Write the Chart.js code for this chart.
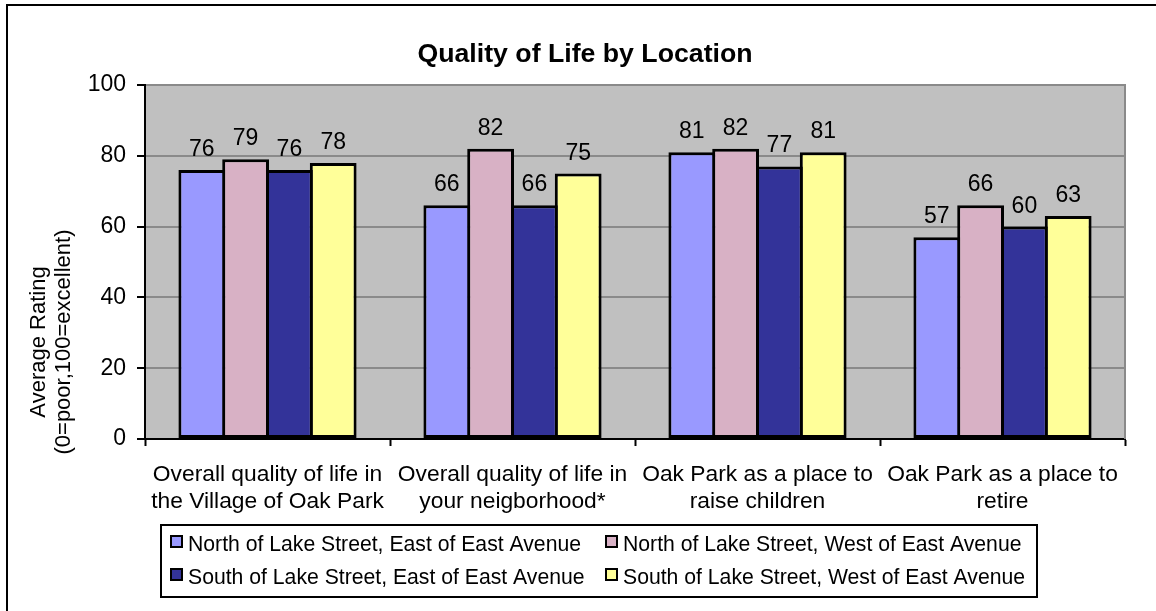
<!DOCTYPE html>
<html>
<head>
<meta charset="utf-8">
<title>Quality of Life by Location</title>
<script src="https://cdn.jsdelivr.net/npm/chart.js@4.4.0/dist/chart.umd.min.js"></script>
<style>
    html, body { margin: 0; padding: 0; background: #fff; }
    #wrap { width: 1156px; height: 611px; }
</style>
</head>
<body>
<div id="wrap"><canvas id="quality-chart" width="1156" height="611"></canvas></div>
<script>
// chart data
const chartTitle = 'Quality of Life by Location';
const yTitle = ['Average Rating', '(0=poor,100=excellent)'];
const categories = [
    ['Overall quality of life in', 'the Village of Oak Park'],
    ['Overall quality of life in', 'your neigborhood*'],
    ['Oak Park as a place to', 'raise children'],
    ['Oak Park as a place to', 'retire']
];
const seriesNames = [
    'North of Lake Street, East of East Avenue',
    'North of Lake Street, West of East Avenue',
    'South of Lake Street, East of East Avenue',
    'South of Lake Street, West of East Avenue'
];
const northEast = [76, 66, 81, 57];
const northWest = [79, 82, 82, 66];
const southEast = [76, 66, 77, 60];
const southWest = [78, 75, 81, 63];
const yTicks = [0, 20, 40, 60, 80, 100];

const seriesColors = ['#9999FF', '#D8B1C5', '#333399', '#FFFF99'];
const FONT = '"Liberation Sans", Arial, sans-serif';
const PLOT_BG = '#C0C0C0';
const GRID_GREY = '#8A8A8A';
const BAR_BORDER = 3;

// everything that is not a scale or a bar: backdrop, labels, legend, frame
const excelFrame = {
    id: 'excelFrame',
    beforeDraw(chart) {
        const { ctx, chartArea: a } = chart;
        ctx.save();
        ctx.fillStyle = '#FFFFFF';
        ctx.fillRect(0, 0, chart.width, chart.height);
        ctx.fillStyle = PLOT_BG;
        ctx.fillRect(a.left, a.top, a.right - a.left, a.bottom - a.top);
        ctx.restore();
    },
    afterDatasetsDraw(chart) {
        const { ctx } = chart;
        ctx.save();
        ctx.font = `23px ${FONT}`;
        ctx.fillStyle = '#000';
        ctx.textAlign = 'center';
        ctx.textBaseline = 'alphabetic';
        chart.data.datasets.forEach((ds, i) => {
            chart.getDatasetMeta(i).data.forEach((bar, j) => {
                ctx.fillText(String(ds.data[j]), bar.x, bar.y - 14);
            });
        });
        ctx.restore();
    },
    afterDraw(chart) {
        const { ctx, chartArea: a } = chart;
        ctx.save();

        // right edge of the plot area
        ctx.strokeStyle = GRID_GREY;
        ctx.lineWidth = 2;
        ctx.beginPath();
        ctx.moveTo(a.right, a.top - 1);
        ctx.lineTo(a.right, a.bottom);
        ctx.stroke();

        // title
        ctx.fillStyle = '#000';
        ctx.font = `bold 26.7px ${FONT}`;
        ctx.textAlign = 'center';
        ctx.textBaseline = 'alphabetic';
        ctx.fillText(chartTitle, 585, 62);

        // y axis title, two rotated lines
        ctx.font = `22px ${FONT}`;
        ctx.textBaseline = 'middle';
        [38.5, 63.5].forEach((x, i) => {
            ctx.save();
            ctx.translate(x, 342);
            ctx.rotate(-Math.PI / 2);
            ctx.fillText(yTitle[i], 0, 0);
            ctx.restore();
        });

        // legend box, two columns
        ctx.strokeStyle = '#000';
        ctx.lineWidth = 2;
        ctx.strokeRect(161, 525, 876, 72);
        ctx.font = `21.2px ${FONT}`;
        ctx.textAlign = 'left';
        ctx.textBaseline = 'alphabetic';
        const cols = [170, 605];
        const rows = [535, 568];
        chart.data.datasets.forEach((ds, i) => {
            const x = cols[i % 2];
            const y = rows[Math.floor(i / 2)];
            ctx.fillStyle = '#000';
            ctx.fillRect(x, y, 13, 13);
            ctx.fillStyle = ds.backgroundColor;
            ctx.fillRect(x + 2, y + 2, 9, 9);
            ctx.fillStyle = '#000';
            ctx.fillText(ds.label, x + 18, y + 16);
        });

        // outer chart border (bottom and right run off the picture)
        ctx.lineWidth = 2;
        ctx.strokeRect(7, 5, 1200, 700);
        ctx.restore();
    }
};

const seriesData = [northEast, northWest, southEast, southWest];

// neighbouring bars overlap by one border width so they share an edge
const slot = 245 * 0.715 / 4;

const chartConfig = {
    type: 'bar',
    data: {
        labels: categories,
        datasets: seriesData.map((values, i) => ({
            label: seriesNames[i],
            data: values,
            backgroundColor: seriesColors[i],
            borderColor: '#000',
            borderWidth: BAR_BORDER,
            borderSkipped: false,
            inflateAmount: 0,
            categoryPercentage: 0.715,
            barPercentage: (slot + BAR_BORDER) / slot
        }))
    },
    options: {
        responsive: false,
        animation: false,
        devicePixelRatio: 1,
        layout: {
            padding: { left: 0, top: 85, right: 31, bottom: 0 }
        },
        plugins: {
            legend: { display: false },
            title: { display: false },
            tooltip: { enabled: false }
        },
        scales: {
            x: {
                grid: {
                    offset: true,
                    drawOnChartArea: false,
                    drawTicks: true,
                    tickLength: 7,
                    tickWidth: 2,
                    tickColor: '#000'
                },
                border: { color: '#000', width: 2 },
                ticks: {
                    color: '#000',
                    font: { family: FONT, size: 22.8, lineHeight: 1.2 },
                    padding: 15,
                    maxRotation: 0,
                    autoSkip: false
                },
                afterFit(scale) {
                    scale.height = 172;
                }
            },
            y: {
                min: 0,
                max: 100,
                afterBuildTicks(axis) {
                    axis.ticks = yTicks.map(v => ({ value: v }));
                },
                grid: {
                    color: GRID_GREY,
                    lineWidth: 2,
                    tickLength: 8,
                    tickWidth: 2,
                    tickColor: '#000'
                },
                border: { color: '#000', width: 2 },
                ticks: {
                    color: '#000',
                    font: { family: FONT, size: 23 },
                    padding: 11
                },
                afterFit(scale) {
                    scale.width = 145;
                }
            }
        }
    },
    plugins: [excelFrame]
};

const chartInstance = new Chart(document.getElementById('quality-chart'), chartConfig);
</script>
</body>
</html>
